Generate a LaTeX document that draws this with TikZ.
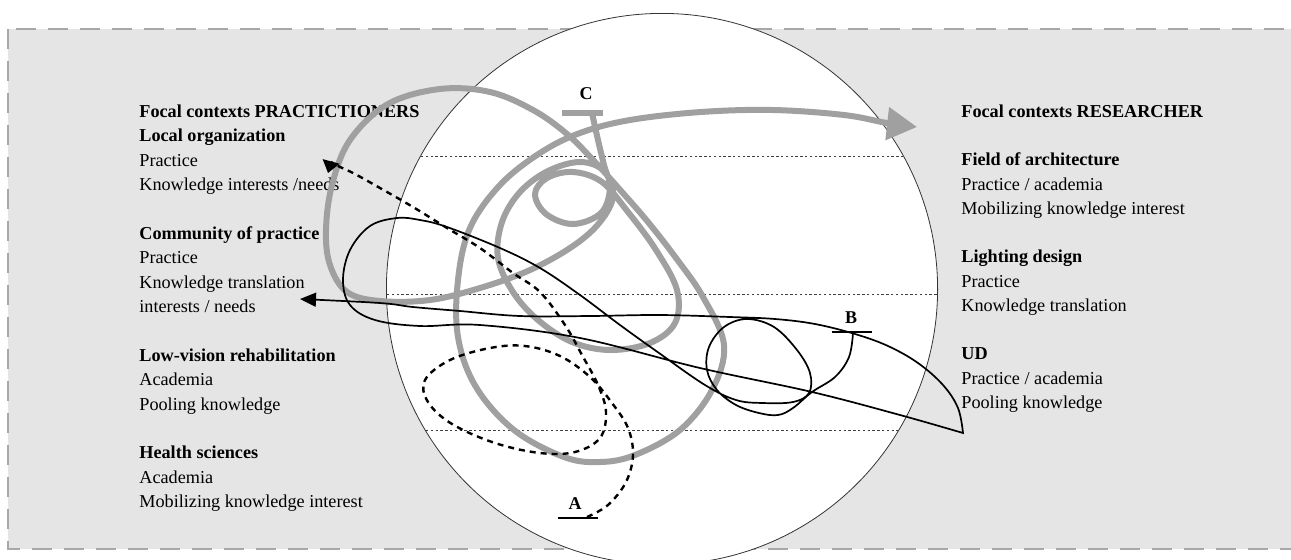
\documentclass[tikz,border=0pt]{standalone}
\usepackage{fontspec}
\setmainfont{Liberation Serif}
\usetikzlibrary{arrows.meta}

\definecolor{panelgray}{RGB}{229,229,229}
\definecolor{pathgray}{RGB}{160,160,160}
\definecolor{bordergray}{RGB}{168,168,168}

\tikzset{
  ctx/.style={anchor=base west, align=left, inner sep=0pt, font=\fontsize{9.1}{12.15}\selectfont},
  lbl/.style={inner sep=0pt, font=\fontsize{9}{11}\selectfont\bfseries},
  greypath/.style={draw=pathgray, line width=3pt, line cap=round},
  blackpath/.style={draw=black, line width=0.85pt},
  dashpath/.style={draw=black, line width=1.2pt, dash pattern=on 3pt off 2.5pt},
  level/.style={draw=black!75, line width=0.5pt, dash pattern=on 1.2pt off 1.2pt},
  bar/.style={line width=1.3pt},
}

\begin{document}
\begin{tikzpicture}[x=0.5pt, y=-0.5pt]
\useasboundingbox (0,0) rectangle (1291,559);

% panel and circle
\draw[fill=panelgray, draw=bordergray, line width=0.9pt, dash pattern=on 10pt off 6pt] (8,29) rectangle (1310,549);
\coordinate (ctr) at (662,289);
\draw[fill=white, draw=black!80, line width=0.4pt] (ctr) circle[radius=275.6];

\draw[level] (421,156) -- (904,156);
\draw[level] (387,294) -- (937,294);
\draw[level] (426,430) -- (899,430);

% focal contexts (placed at the baseline of the last line)
\node[ctx] (prac) at (139,190.5) {\textbf{Focal contexts PRACTICTIONERS}\\\textbf{Local organization}\\Practice\\Knowledge interests /needs};
\node[ctx] (comm) at (139,312.5) {\textbf{Community of practice}\\Practice\\Knowledge translation\\interests / needs};
\node[ctx] (lowv) at (139,410) {\textbf{Low-vision rehabilitation}\\Academia\\Pooling knowledge};
\node[ctx] (hlth) at (139,507.5) {\textbf{Health sciences}\\Academia\\Mobilizing knowledge interest};

\node[ctx] (res) at (961,117) {\textbf{Focal contexts RESEARCHER}};
\node[ctx] (arch) at (961,214.5) {\textbf{Field of architecture}\\Practice / academia\\Mobilizing knowledge interest};
\node[ctx] (light) at (961,311.5) {\textbf{Lighting design}\\Practice\\Knowledge translation};
\node[ctx] (ud) at (961,408.5) {\textbf{UD}\\Practice / academia\\Pooling knowledge};

% path C
\node[lbl] (labC) at (586,93.5) {C};
\draw[greypath, line cap=butt] (562,113) -- (603,113);
\draw[greypath, -{Triangle[length=15pt,width=16pt]}] plot[smooth, tension=0.6] coordinates {
  (592,113) (598,140) (604,165) (610,188) (601,213) (573,224) (546,214) (535,194) (547,178) (573,172)
  (602,182) (628,212) (656,250) (677,290) (675,323) (650,343) (610,350) (572,342) (538,320) (513,292)
  (498,258) (502,222) (520,192) (548,171) (580,162) (604,171) (613,196) (600,222) (573,246) (530,270)
  (480,288) (430,300) (380,301) (347,292) (330,265) (326,230) (332,185) (350,140) (388,104) (440,89)
  (490,92) (533,110) (567,134) (595,162) (622,192) (648,222) (676,258) (703,297) (724,345) (712,390)
  (680,430) (635,455) (600,462) (564,457) (514,430) (476,387) (458,337) (458,280) (470,228) (500,185)
  (540,153) (580,133) (630,120) (701,112) (773,110) (844,115) (887,123) (917,127)};

% path B
\node[lbl] (labB) at (851,318) {B};
\draw[bar] (832,332) -- (872,332);
\coordinate (tipB) at (963,433);
\draw[blackpath, -{Triangle[length=8pt,width=7pt]}] plot[smooth, tension=0.6] coordinates {
  (853,333) (849,357) (835,377) (812,392) (793,408) (778,415) (759,413) (736,405) (717,390) (707,370)
  (709,347) (724,327) (747,319) (774,327) (797,350) (810,373) (809,393) (793,402) (763,403) (736,400)
  (705,385) (659,353) (620,325) (580,295) (540,268) (500,248) (447,227) (420,220) (397,218) (370,226)
  (350,250) (343,280) (350,305) (375,320) (420,326) (480,325) (580,338) (700,368) (812,392) (900,415)
  (963,433)}
  -- plot[smooth, tension=0.6] coordinates {
  (963,433) (958,408) (943,385) (918,363) (888,346) (855,334) (815,324) (775,319) (730,317) (660,315)
  (590,316) (520,316) (460,311) (413,307) (380,303) (300,299)};

% path A
\node[lbl] (labA) at (575,503.5) {A};
\draw[bar] (558,518) -- (598,518);
\coordinate (endA) at (328,173);
\draw[dashpath, -{Triangle[length=6pt,width=8.5pt]}] plot[smooth, tension=0.6] coordinates {
  (587,517) (608,505) (626,482) (633,455) (628,428) (612,403) (590,377) (560,356) (525,346) (490,348)
  (450,360) (425,380) (428,402) (452,424) (495,443) (540,453) (575,452) (600,438) (606,412) (598,385)
  (582,355) (565,325) (540,292) (513,273) (480,248) (447,228) (413,207) (380,188) (355,174) (340,167)}
  .. controls (331,162) .. (endA);

\end{tikzpicture}
\end{document}
